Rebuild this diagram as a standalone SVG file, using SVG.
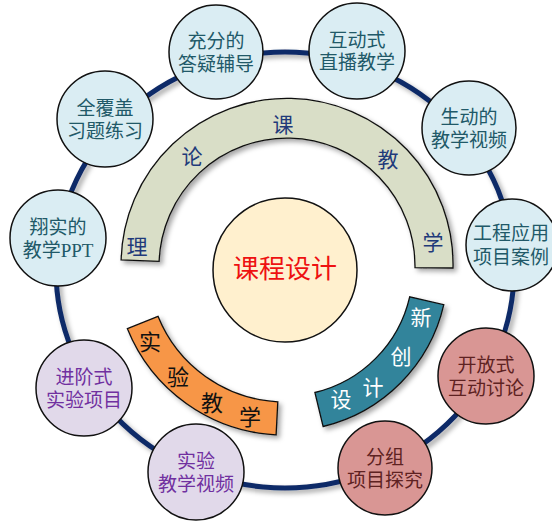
<svg xmlns="http://www.w3.org/2000/svg" width="552" height="521" viewBox="0 0 552 521">
<defs>
<filter id="sh" x="-20%" y="-20%" width="140%" height="140%">
<feDropShadow dx="3" dy="3" stdDeviation="2.5" flood-color="#000" flood-opacity="0.35"/>
</filter>
<style>
text{font-family:"Liberation Serif","Noto Sans CJK SC",serif;text-anchor:middle;dominant-baseline:central}
.node{stroke:#111;stroke-width:1.5}
.blue{fill:#DAEDF3}
.purple{fill:#E1D9EA}
.red{fill:#D99694}
.tb{fill:#215968;font-size:19px}
.tp{fill:#7030A0;font-size:19px}
.tr{fill:#5E2222;font-size:19px}
.band{stroke:#111;stroke-width:1.3}
.t1{fill:#1F3A7A;font-size:21px}
.t2{fill:#111;font-size:22px}
.t3{fill:#fff;font-size:21px}
</style>
</defs>
<rect width="552" height="521" fill="#fff"/>
<g id="connectors">
<ellipse cx="285" cy="270" rx="229" ry="218" fill="none" stroke="#102A67" stroke-width="5" filter="url(#sh)"/>
</g>
<g id="theory">
<path class="band" d="M121.1,259.9 A166,166 0 0 1 453,268 L415,267.6 A128,128 0 0 0 159.1,261.3 Z" fill="#D9DEC7" filter="url(#sh)"/>
<text class="t1" x="137" y="247">理</text>
<text class="t1" x="192" y="157">论</text>
<text class="t1" x="283" y="125">课</text>
<text class="t1" x="388" y="160">教</text>
<text class="t1" x="433" y="243">学</text>
</g>
<g id="experiment">
<path class="band" d="M276.1,434.8 A170,170 0 0 1 127.4,328.7 L158,316.3 A137,137 0 0 0 277.8,401.8 Z" fill="#F79646" filter="url(#sh)"/>
<text class="t2" x="150" y="342">实</text>
<text class="t2" x="178" y="377">验</text>
<text class="t2" x="212" y="403">教</text>
<text class="t2" x="250" y="417">学</text>
</g>
<g id="innovation">
<path class="band" d="M443.8,304.7 A163,163 0 0 1 323.1,426.5 L314.9,392.5 A128,128 0 0 0 409.7,296.8 Z" fill="#31849B" filter="url(#sh)"/>
<text class="t3" x="421" y="318">新</text>
<text class="t3" x="401" y="357">创</text>
<text class="t3" x="373" y="388">计</text>
<text class="t3" x="341" y="400">设</text>
</g>
<g id="center">
<circle cx="285" cy="270" r="72" fill="#FFF0CE" stroke="#111" stroke-width="1.5"/>
<text x="285" y="269" fill="#EE1111" style="font-size:26px">课程设计</text>
</g>
<g id="n1"><circle class="node blue" cx="216" cy="52" r="47"/><text class="tb" x="216" y="41">充分的</text><text class="tb" x="216" y="64">答疑辅导</text></g>
<g id="n2"><circle class="node blue" cx="357" cy="51" r="48"/><text class="tb" x="357" y="40">互动式</text><text class="tb" x="357" y="62">直播教学</text></g>
<g id="n3"><circle class="node blue" cx="469" cy="128" r="47"/><text class="tb" x="469" y="117">生动的</text><text class="tb" x="469" y="140">教学视频</text></g>
<g id="n4"><circle class="node blue" cx="512" cy="245" r="46"/><text class="tb" x="511" y="233">工程应用</text><text class="tb" x="511" y="257">项目案例</text></g>
<g id="n5"><circle class="node red" cx="486" cy="376" r="48"/><text class="tr" x="486" y="365">开放式</text><text class="tr" x="486" y="388">互动讨论</text></g>
<g id="n6"><circle class="node red" cx="385" cy="468" r="47"/><text class="tr" x="385" y="457">分组</text><text class="tr" x="385" y="480">项目探究</text></g>
<g id="n7"><circle class="node purple" cx="196" cy="472" r="48"/><text class="tp" x="196" y="461">实验</text><text class="tp" x="196" y="484">教学视频</text></g>
<g id="n8"><circle class="node purple" cx="84" cy="388" r="48"/><text class="tp" x="84" y="377">进阶式</text><text class="tp" x="84" y="400">实验项目</text></g>
<g id="n9"><circle class="node blue" cx="58" cy="238" r="48"/><text class="tb" x="58" y="227">翔实的</text><text class="tb" x="58" y="250">教学PPT</text></g>
<g id="n10"><circle class="node blue" cx="105" cy="119" r="48"/><text class="tb" x="105" y="108">全覆盖</text><text class="tb" x="105" y="131">习题练习</text></g>
</svg>
